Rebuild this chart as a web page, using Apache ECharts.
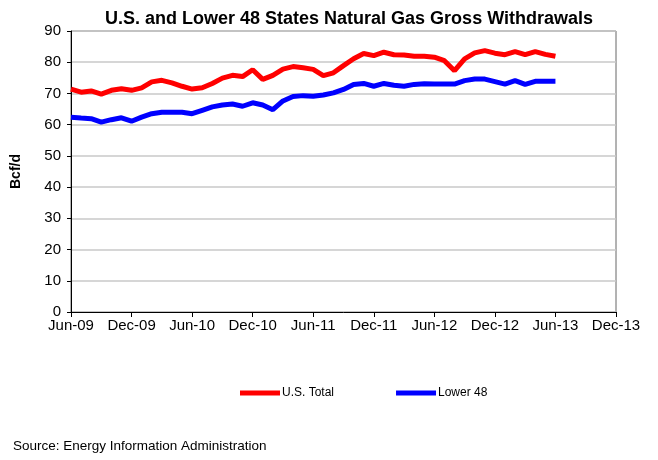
<!DOCTYPE html>
<html>
<head>
<meta charset="utf-8">
<script src="https://cdn.jsdelivr.net/npm/echarts@6/dist/echarts.min.js"></script>
<style>
  html, body { margin: 0; padding: 0; background: #fff; }
  #main { width: 658px; height: 460px; }
</style>
</head>
<body>
<div id="main"></div>
<script>
// monthly, Jun-09 .. Dec-13 (data stops at Jun-13)
var months = [
  "Jun-09", "Jul-09", "Aug-09", "Sep-09", "Oct-09", "Nov-09",
  "Dec-09", "Jan-10", "Feb-10", "Mar-10", "Apr-10", "May-10",
  "Jun-10", "Jul-10", "Aug-10", "Sep-10", "Oct-10", "Nov-10",
  "Dec-10", "Jan-11", "Feb-11", "Mar-11", "Apr-11", "May-11",
  "Jun-11", "Jul-11", "Aug-11", "Sep-11", "Oct-11", "Nov-11",
  "Dec-11", "Jan-12", "Feb-12", "Mar-12", "Apr-12", "May-12",
  "Jun-12", "Jul-12", "Aug-12", "Sep-12", "Oct-12", "Nov-12",
  "Dec-12", "Jan-13", "Feb-13", "Mar-13", "Apr-13", "May-13",
  "Jun-13", "Jul-13", "Aug-13", "Sep-13", "Oct-13", "Nov-13",
  "Dec-13"
];
var usTotal = [
  71.4, 70.4, 70.8, 69.8, 71.0, 71.5, 71.0, 71.8, 73.7, 74.2, 73.4, 72.3,
  71.4, 71.8, 73.2, 74.9, 75.8, 75.4, 77.6, 74.5, 75.8, 77.8, 78.6, 78.2,
  77.7, 75.7, 76.6, 78.9, 81.1, 82.8, 82.1, 83.2, 82.4, 82.3, 81.9, 81.9,
  81.6, 80.5, 77.3, 81.1, 83.0, 83.7, 82.9, 82.4, 83.4, 82.4, 83.4, 82.5,
  81.9
];
var lower48 = [
  62.4, 62.1, 61.9, 60.8, 61.6, 62.2, 61.1, 62.4, 63.5, 64.0, 64.0, 64.0,
  63.5, 64.6, 65.7, 66.3, 66.6, 65.9, 67.0, 66.3, 64.8, 67.6, 69.0, 69.3,
  69.1, 69.5, 70.2, 71.3, 72.9, 73.2, 72.3, 73.2, 72.6, 72.3, 72.9, 73.1,
  73.0, 73.0, 73.0, 74.1, 74.6, 74.6, 73.8, 73.0, 74.1, 72.9, 73.9, 73.9,
  73.9
];

var myChart = echarts.init(document.getElementById("main"));
var font = "'Liberation Sans', Arial, sans-serif";
var option = {
  animation: false,
  backgroundColor: "#fff",
  title: {
    text: "U.S. and Lower 48 States Natural Gas Gross Withdrawals",
    left: 344,
    textAlign: "center",
    top: 5,
    textStyle: { fontFamily: font, fontSize: 18, fontWeight: "bold", color: "#000" }
  },
  legend: {
    left: 235,
    top: 382,
    itemGap: 62,
    itemWidth: 40,
    itemHeight: 5,
    icon: "rect",
    textStyle: { fontFamily: font, fontSize: 12, color: "#000", padding: [0, 0, 0, -3] },
    data: ["U.S. Total", "Lower 48"]
  },
  grid: {
    left: 71, right: 42, top: 31, bottom: 148,
    show: true, borderColor: "#666", borderWidth: 1
  },
  xAxis: {
    type: "category",
    boundaryGap: false,
    data: months,
    axisLine: { lineStyle: { color: "#000", width: 1 } },
    axisTick: { interval: 5, length: 5, lineStyle: { color: "#000" } },
    axisLabel: { interval: 5, margin: 6, color: "#000", fontFamily: font, fontSize: 15 },
    splitLine: { show: false }
  },
  yAxis: {
    type: "value",
    min: 0, max: 90, interval: 10,
    name: "Bcf/d",
    nameLocation: "middle",
    nameGap: 48,
    nameTextStyle: { fontFamily: font, fontSize: 14, fontWeight: "bold", color: "#000" },
    axisLine: { show: true, lineStyle: { color: "#000", width: 1 } },
    axisTick: { show: true, length: 4, lineStyle: { color: "#000" } },
    axisLabel: { margin: 10, color: "#000", fontFamily: font, fontSize: 15 },
    splitLine: { lineStyle: { color: "#c8c8c8", width: 1.5 } }
  },
  series: [
    {
      name: "U.S. Total", type: "line", data: usTotal,
      showSymbol: false, color: "#ff0000",
      lineStyle: { color: "#ff0000", width: 5 }
    },
    {
      name: "Lower 48", type: "line", data: lower48,
      showSymbol: false, color: "#0000ff",
      lineStyle: { color: "#0000ff", width: 5 }
    }
  ],
  graphic: [
    {
      type: "text", left: 13, top: 439,
      style: {
        text: "Source: Energy Information Administration",
        font: "13.5px " + font, fill: "#000"
      }
    }
  ]
};
myChart.setOption(option);
</script>
</body>
</html>
